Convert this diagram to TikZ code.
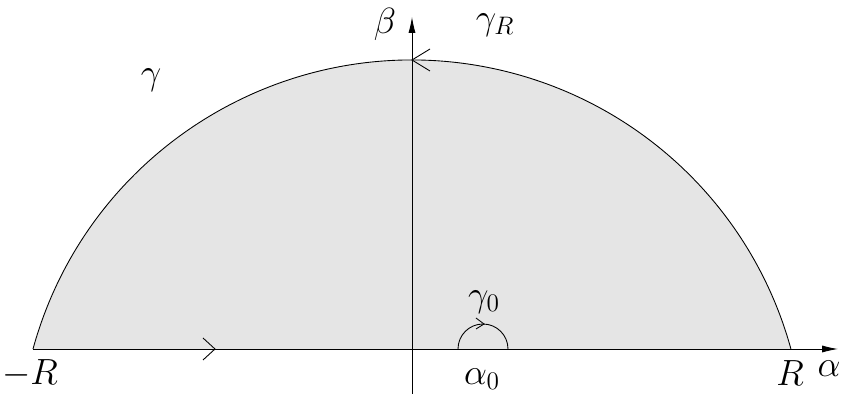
\documentclass[tikz,border=0pt]{standalone}
\usepackage{amsmath,amssymb}
\usepackage{tikz}
\usetikzlibrary{arrows.meta,calc}

\tikzset{
  lbl/.style={font=\fontsize{20}{22}\selectfont, inner sep=0pt},
  axis/.style={line width=0.5pt, -{Latex[length=9pt,width=4pt]}},
}

\begin{document}
\begin{tikzpicture}[x=0.02cm,y=0.02cm]
\useasboundingbox (-412,-45) rectangle (433,349);
% region
\fill[black!10] (-379,0) arc[start angle=164.65,end angle=15.35,radius=393] -- cycle;
\draw[line width=0.5pt] (-379,0) arc[start angle=164.65,end angle=15.35,radius=393];
% axes
\draw[axis] (-379,0) -- (426,0);
\draw[axis] (0,-45) -- (0,332);
% small detour
\draw[line width=0.5pt] (46,0) arc[start angle=180,end angle=0,radius=25];
% direction marks
\draw[line width=0.5pt] (-209,11) -- (-197,0) -- (-209,-11);
\draw[line width=0.5pt] (18,300) -- (0,289) -- (18,278);
\draw[line width=0.5pt] (64,31) -- (72,25) -- (64,20);
% labels
\node[lbl] (beta) at (-27,325) {$\beta$};
\node[lbl] (gR) at (83,324) {$\gamma_R$};
\node[lbl] (g) at (-261,269) {$\gamma$};
\node[lbl] (g0) at (72,47) {$\gamma_0$};
\node[lbl] (mR) at (-382,-25) {$-R$};
\node[lbl] (a0) at (70,-30) {$\alpha_0$};
\node[lbl] (R) at (378,-24) {$R$};
\node[lbl] (alpha) at (417,-20) {$\alpha$};
\end{tikzpicture}
\end{document}
